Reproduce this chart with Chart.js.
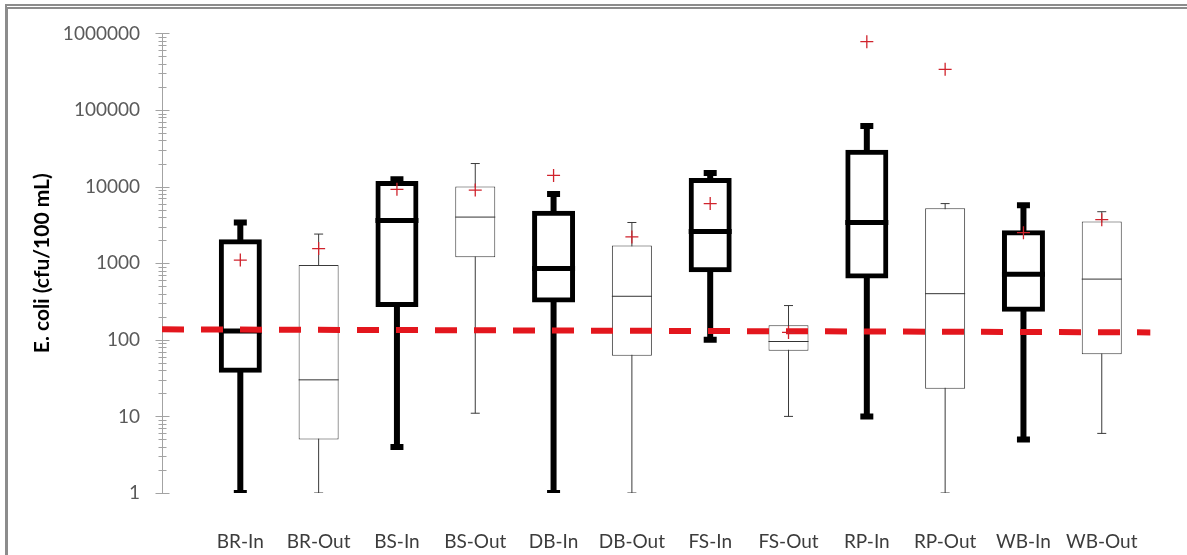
<!DOCTYPE html>
<html>
<head>
<meta charset="utf-8">
<script src="https://cdn.jsdelivr.net/npm/chart.js@4/dist/chart.umd.min.js"></script>
<style>
  html, body { margin: 0; padding: 0; background: #fff; }
  #wrap { position: relative; width: 1187px; height: 555px; overflow: hidden; }
  #wrap canvas { position: absolute; left: 0; top: 0; }
  #frame {
    position: absolute; left: 5px; top: 4px; width: 1300px; height: 700px;
    border-left: 3px solid #8c8c8c; border-top: 5px double #8c8c8c;
    pointer-events: none;
  }
</style>
</head>
<body>
<div id="wrap">
  <canvas id="chart" width="1187" height="555"></canvas>
  <div id="frame"></div>
</div>
<script>
// Sampling sites (inlet / outlet), E. coli in cfu/100 mL
const categories = ['BR-In', 'BR-Out', 'BS-In', 'BS-Out', 'DB-In', 'DB-Out',
                    'FS-In', 'FS-Out', 'RP-In', 'RP-Out', 'WB-In', 'WB-Out'];
const minimum = [1, 1, 4, 11, 1, 1, 100, 10, 10, 1, 5, 6];
const quartile1 = [40, 5, 290, 1200, 330, 62, 820, 72, 680, 23, 250, 65];
const median = [130, 30, 3600, 4000, 850, 370, 2600, 95, 3400, 400, 720, 620];
const quartile3 = [1900, 950, 11000, 10000, 4500, 1700, 12000, 155, 28000, 5200, 2500, 3500];
const maximum = [3400, 2400, 12500, 20000, 8000, 3400, 15000, 280, 62000, 6000, 5700, 4700];
const mean = [1100, 1550, 9200, 9000, 14000, 2200, 6000, 125, 780000, 340000, 2500, 3700];

// Recreational water criterion, drawn as a dashed reference line
const criterionX = [0, 12.62];
const criterionY = [137, 125];

// Log axis labels
const yMajorTicks = [1, 10, 100, 1000, 10000, 100000, 1000000];

const isInlet = name => name.endsWith('-In');

// points for one group of sites (inlets or outlets)
function points(wantInlet, valueOf) {
  const out = [];
  categories.forEach((name, i) => {
    if (isInlet(name) === wantInlet) out.push({ x: i + 1, y: valueOf(i) });
  });
  return out;
}

// minor ticks 2..9 inside each decade, plus the decades themselves
const yTicks = [];
for (let d = 0; d < yMajorTicks.length - 1; d++) {
  for (let k = 1; k <= 9; k++) yTicks.push(k * yMajorTicks[d]);
}
yTicks.push(yMajorTicks[yMajorTicks.length - 1]);

const FONT = 'Lato, "Open Sans", sans-serif';
const RED = '#e3161d';
const MEAN_RED = '#d0232c';

// tick marks that cross the value axis (longer at each decade)
const crossTicks = {
  id: 'crossTicks',
  beforeDatasetsDraw(chart) {
    const scale = chart.scales.y;
    const ax = Math.round(chart.chartArea.left) + 0.5;
    const ctx = chart.ctx;
    ctx.save();
    ctx.strokeStyle = '#a3a3a3';
    ctx.lineWidth = 1;
    ctx.beginPath();
    scale.ticks.forEach(t => {
      const y = Math.round(scale.getPixelForValue(t.value)) + 0.5;
      const half = yMajorTicks.includes(t.value) ? 7 : 4;
      ctx.moveTo(ax - half, y);
      ctx.lineTo(ax + half, y);
    });
    ctx.stroke();
    ctx.restore();
  }
};

// floating bars centred on their site, width capped by maxBarThickness
const barBase = { grouped: false, categoryPercentage: 1, barPercentage: 1, borderSkipped: false };

new Chart(document.getElementById('chart'), {
  type: 'bar',
  data: {
    datasets: [
      {
        type: 'scatter', label: 'Mean', order: 0,
        data: categories.map((c, i) => ({ x: i + 1, y: mean[i] })),
        pointStyle: 'cross', pointRadius: 6.5, borderColor: MEAN_RED, borderWidth: 1.3,
        backgroundColor: MEAN_RED
      },
      {
        type: 'line', label: 'Criterion', order: 1,
        data: criterionX.map((x, i) => ({ x, y: criterionY[i] })),
        borderColor: RED, borderWidth: 6, borderDash: [22, 17], pointRadius: 0, fill: false
      },
      {
        type: 'scatter', label: 'Median (inlet)', order: 2,
        data: points(true, i => median[i]),
        pointStyle: 'line', pointRadius: 21.5, borderColor: '#000', borderWidth: 5
      },
      {
        type: 'scatter', label: 'Median (outlet)', order: 2,
        data: points(false, i => median[i]),
        pointStyle: 'line', pointRadius: 20, borderColor: '#333', borderWidth: 1
      },
      Object.assign({}, barBase, {
        label: 'IQR (inlet)', order: 3,
        data: points(true, i => [quartile1[i], quartile3[i]]),
        maxBarThickness: 38, inflateAmount: 2.5,
        backgroundColor: '#fff', borderColor: '#000', borderWidth: 5
      }),
      Object.assign({}, barBase, {
        label: 'IQR (outlet)', order: 3,
        data: points(false, i => [quartile1[i], quartile3[i]]),
        maxBarThickness: 40, inflateAmount: 0,
        backgroundColor: '#fff', borderColor: '#3a3a3a', borderWidth: 1
      }),
      {
        type: 'scatter', label: 'Whisker caps (inlet)', order: 4,
        data: points(true, i => minimum[i]).concat(points(true, i => maximum[i])),
        pointStyle: 'line', pointRadius: 6.5, borderColor: '#000', borderWidth: 6
      },
      {
        type: 'scatter', label: 'Whisker caps (outlet)', order: 4,
        data: points(false, i => minimum[i]).concat(points(false, i => maximum[i])),
        pointStyle: 'line', pointRadius: 4.5, borderColor: '#3a3a3a', borderWidth: 1
      },
      Object.assign({}, barBase, {
        label: 'Range (inlet)', order: 5,
        data: points(true, i => [minimum[i], maximum[i]]),
        maxBarThickness: 6, borderWidth: 0, inflateAmount: 0, backgroundColor: '#000'
      }),
      Object.assign({}, barBase, {
        label: 'Range (outlet)', order: 5,
        data: points(false, i => [minimum[i], maximum[i]]),
        maxBarThickness: 1, borderWidth: 0, inflateAmount: 0, backgroundColor: '#3a3a3a'
      })
    ]
  },
  options: {
    responsive: false,
    animation: false,
    devicePixelRatio: 1,
    layout: { padding: { top: 32, right: 0, bottom: 0, left: 0 } },
    plugins: { legend: { display: false }, tooltip: { enabled: false } },
    scales: {
      x: {
        type: 'linear', min: 0, max: 12.75, offset: false, stacked: false,
        grid: { display: false },
        border: { display: false },
        afterBuildTicks: scale => { scale.ticks = categories.map((c, i) => ({ value: i + 1 })); },
        afterFit: scale => { scale.height = 62; },
        ticks: {
          autoSkip: false, maxRotation: 0, padding: 29,
          color: '#3c3c3c', font: { family: FONT, size: 19 },
          callback: v => categories[v - 1] ?? ''
        }
      },
      y: {
        type: 'logarithmic', min: 1, max: 1000000, offset: false, stacked: false,
        grid: { display: false, drawTicks: false },
        border: { display: true, color: '#a3a3a3', width: 1 },
        afterBuildTicks: scale => { scale.ticks = yTicks.map(v => ({ value: v })); },
        afterFit: scale => { scale.width = 162; },
        ticks: {
          autoSkip: false, padding: 22,
          color: '#5a5a5a', font: { family: FONT, size: 19 },
          major: { enabled: false },
          callback: v => (yMajorTicks.includes(v) ? String(v) : '')
        },
        title: {
          display: true, text: 'E. coli (cfu/100 mL)', color: '#000',
          font: { family: FONT, size: 21, weight: 'bold' },
          padding: { top: 30, bottom: 0 }
        }
      }
    }
  },
  plugins: [crossTicks]
});
</script>
</body>
</html>
